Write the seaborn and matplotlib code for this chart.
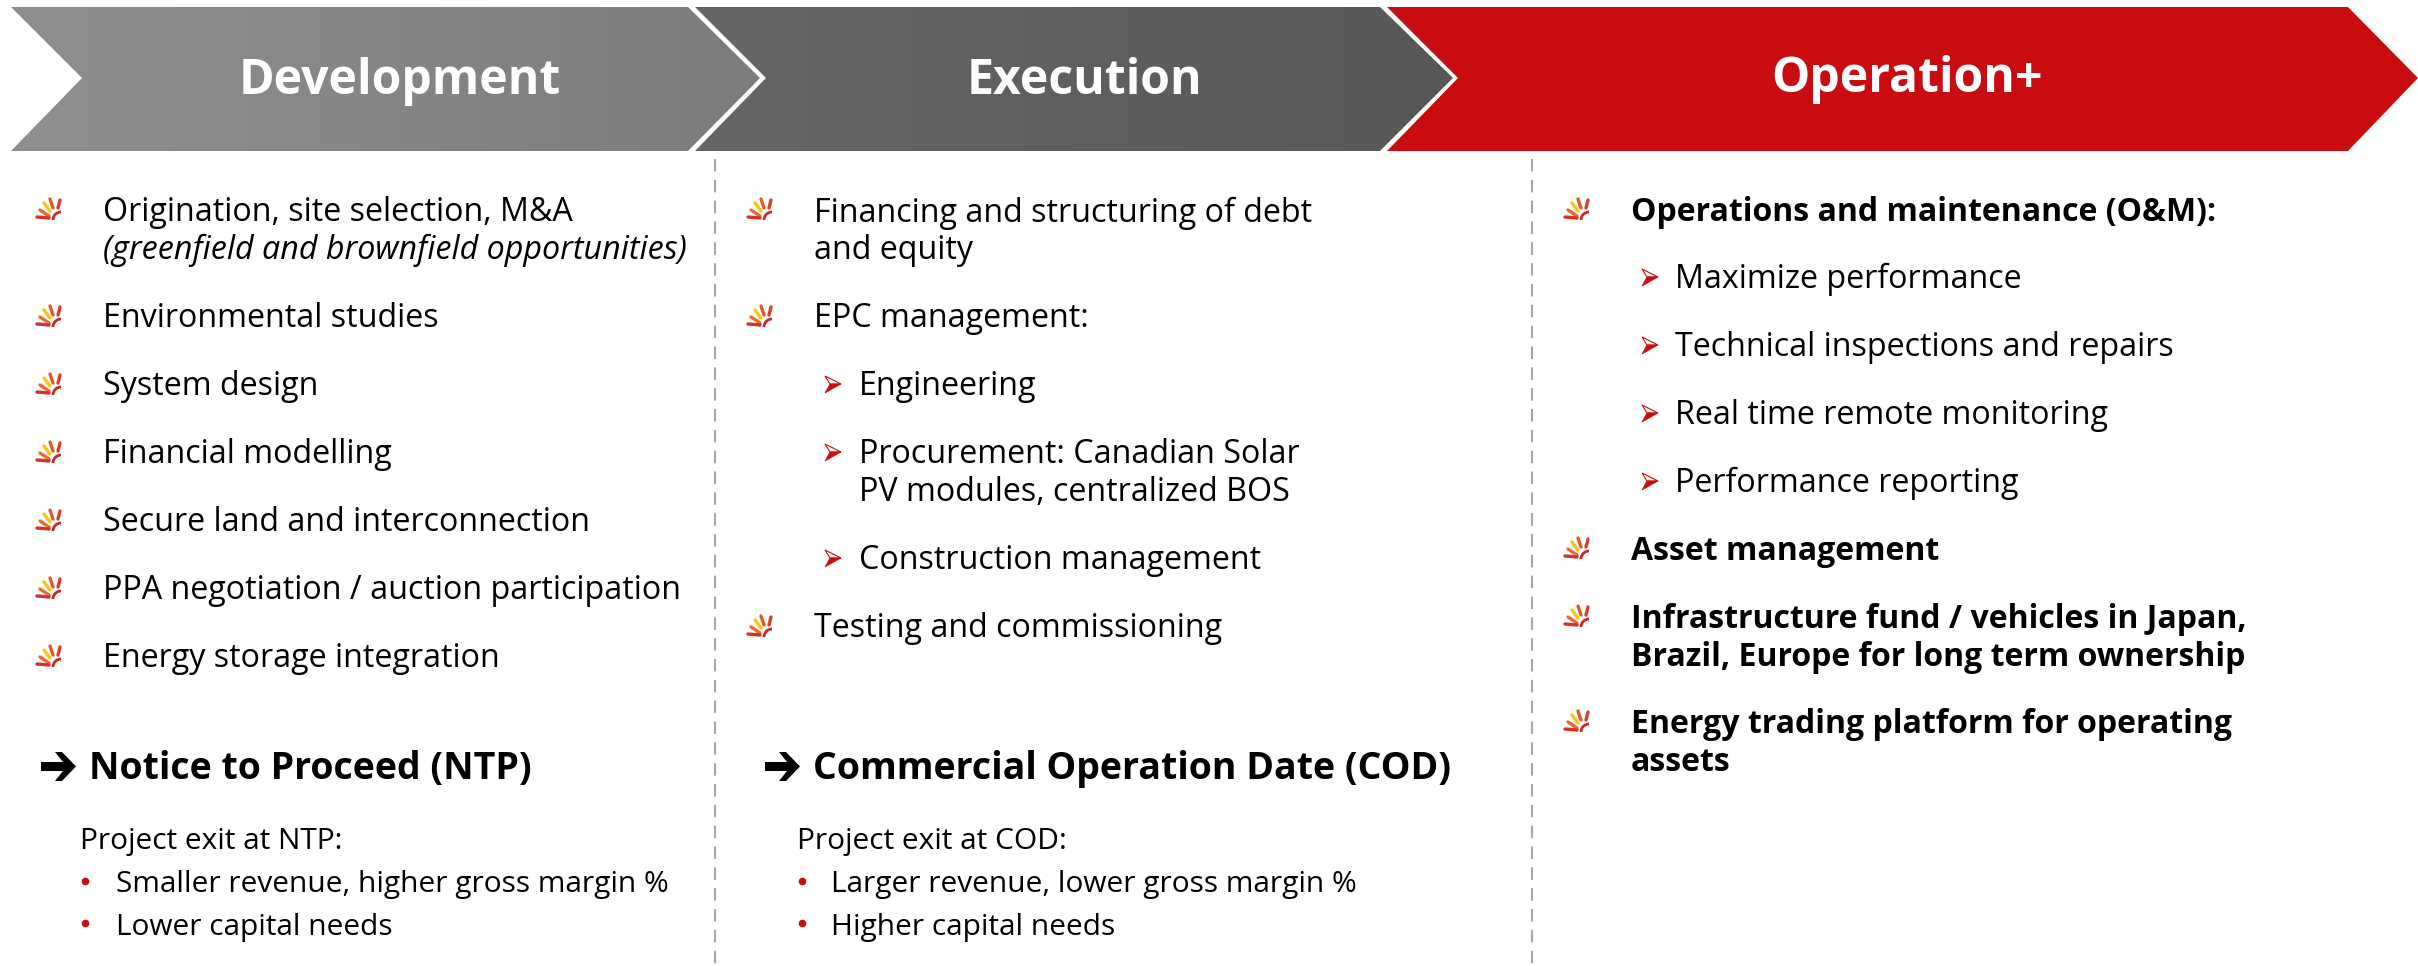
import numpy as np
import matplotlib
matplotlib.use("Agg")
import matplotlib.pyplot as plt
from matplotlib.patches import Polygon, Arc
from matplotlib.colors import LinearSegmentedColormap
import seaborn as sns

sns.set_theme(style="white")
FONT = ["Open Sans", "Noto Sans", "DejaVu Sans"]
plt.rcParams["font.family"] = FONT

RED = "#c80c0f"
phases = ["Development", "Execution", "Operation+"]
phase_x = [400, 1084, 1907]
phase_y = [81, 81, 79]
chevrons = [
    dict(l=11, r=688, tip=760, notch=82, c0="#8f8f8f", c1="#7c7c7c"),
    dict(l=695, r=1380, tip=1453, notch=766, c0="#666666", c1="#585858"),
    dict(l=1387, r=2348, tip=2418, notch=1458, c0=RED, c1=RED),
]
col1 = [("Origination, site selection, M&A", 221, "normal", "normal"),
        ("(greenfield and brownfield opportunities)", 259, "normal", "italic"),
        ("Environmental studies", 327, "normal", "normal"),
        ("System design", 395, "normal", "normal"),
        ("Financial modelling", 463, "normal", "normal"),
        ("Secure land and interconnection", 531, "normal", "normal"),
        ("PPA negotiation / auction participation", 599, "normal", "normal"),
        ("Energy storage integration", 667, "normal", "normal")]
col1_icons = [208, 315, 383, 451, 519, 587, 655]
col2 = [("Financing and structuring of debt", 222, 814), ("and equity", 259, 814),
        ("EPC management:", 327, 814), ("Engineering", 395, 859),
        ("Procurement: Canadian Solar", 463, 859), ("PV modules, centralized BOS", 501, 859),
        ("Construction management", 569, 859), ("Testing and commissioning", 637, 814)]
col2_icons = [208, 315, 625]
col2_arrows = [384, 452, 558]
col3 = [("Operations and maintenance (O&M):", 221, 1631, "bold"),
        ("Maximize performance", 288, 1675, "normal"),
        ("Technical inspections and repairs", 356, 1675, "normal"),
        ("Real time remote monitoring", 424, 1675, "normal"),
        ("Performance reporting", 492, 1675, "normal"),
        ("Asset management", 560, 1631, "bold"),
        ("Infrastructure fund / vehicles in Japan,", 628, 1631, "bold"),
        ("Brazil, Europe for long term ownership", 666, 1631, "bold"),
        ("Energy trading platform for operating", 733, 1631, "bold"),
        ("assets", 771, 1631, "bold")]
col3_icons = [208, 547, 615, 720]
col3_arrows = [277, 345, 413, 481]
headings = [("Notice to Proceed (NTP)", 41, 89), ("Commercial Operation Date (COD)", 765, 813)]
exits = [("Project exit at NTP:", 80, 116, "Smaller revenue, higher gross margin %", "Lower capital needs"),
         ("Project exit at COD:", 797, 831, "Larger revenue, lower gross margin %", "Higher capital needs")]
dividers = [715, 1532]

fig = plt.figure(figsize=(24.18, 9.66), dpi=100, facecolor="white")
ax = fig.add_axes([0, 0, 1, 1])
ax.set_axis_off()
TOP, BOT, MID = 7, 151, 78

for ch, name, tx, ty in zip(chevrons, phases, phase_x, phase_y):
    pts = [(ch["l"], TOP), (ch["r"], TOP), (ch["tip"], MID), (ch["r"], BOT), (ch["l"], BOT), (ch["notch"], MID)]
    poly = Polygon(pts, closed=True, fc="none", ec="none")
    ax.add_patch(poly)
    cmap = LinearSegmentedColormap.from_list("g", [ch["c0"], ch["c1"]])
    im = ax.imshow(np.linspace(0, 1, 256)[None, :], cmap=cmap, aspect="auto",
                   extent=(ch["l"], ch["tip"], BOT, TOP), zorder=1, interpolation="bilinear")
    im.set_clip_path(poly)
    ax.text(tx, ty, name, color="white", fontsize=34.7, fontweight="bold", ha="center", va="center", zorder=3)

def icon(cy, x0=32):
    oy = cy - 10
    rays = [("#f5c518", (12, 5), (18, 13)), ("#ec6a2c", (8, 12), (17, 18)),
            ("#d6302a", (5, 19), (17, 20)), ("#e0592a", (18, 1), (21, 10)),
            ("#d6402a", (28, 2), (26, 10))]
    for c, a, b in rays:
        ax.plot([x0 + a[0], x0 + b[0]], [oy + a[1], oy + b[1]], color=c, lw=2.4, solid_capstyle="round", zorder=4)
    ax.add_patch(Arc((x0 + 29, oy + 22), 16, 16, theta1=180, theta2=270, color="#c8282a", lw=2.0, zorder=4))

def arrow(cy, x):
    ax.add_patch(Polygon([(x - 8, cy - 8), (x + 8, cy), (x - 3, cy)], closed=True, fc="white", ec=RED, lw=0.8, zorder=4))
    ax.add_patch(Polygon([(x - 8, cy + 9), (x + 8, cy), (x - 3, cy)], closed=True, fc=RED, ec=RED, lw=0.5, zorder=4))

def big_arrow(x):
    pts = [(x, 762), (x + 22, 762), (x + 14, 752), (x + 21, 752), (x + 35, 766.5),
           (x + 21, 781), (x + 14, 781), (x + 22, 771), (x, 771)]
    ax.add_patch(Polygon(pts, closed=True, fc="black", ec="none", zorder=4))

SZ, SZ_B = 23.2, 23.05
for t, y, w, s in col1:
    ax.text(103, y, t, fontsize=SZ, fontweight=w, fontstyle=s, color="black", va="baseline")
for y in col1_icons:
    icon(y)
for t, y, x in col2:
    ax.text(x, y, t, fontsize=SZ, color="black", va="baseline")
for y in col2_icons:
    icon(y, 743)
for y in col2_arrows:
    arrow(y, 833)
for t, y, x, w in col3:
    ax.text(x, y, t, fontsize=SZ_B if w == "bold" else SZ, fontweight=w, color="black", va="baseline")
for y in col3_icons:
    icon(y, 1560)
for y in col3_arrows:
    arrow(y, 1650)

for t, xa, xt in headings:
    big_arrow(xa)
    ax.text(xt, 779, t, fontsize=27, fontweight="bold", color="black", va="baseline")
for head, xh, xt, a, b in exits:
    ax.text(xh, 849, head, fontsize=21.5, color="black", va="baseline")
    ax.text(xt, 892, a, fontsize=21.5, color="black", va="baseline")
    ax.text(xt, 935, b, fontsize=21.5, color="black", va="baseline")
    for yy in (881, 923):
        ax.plot([xh + 5], [yy], "o", color=RED, ms=5.5, mew=0)

for x in dividers:
    ax.plot([x, x], [159, 966], color="#a6a6a6", lw=1.5, dashes=(6, 4), zorder=0)

ax.set_xlim(0, 2418)
ax.set_ylim(966, 0)
fig.savefig("out.png", dpi=100)
